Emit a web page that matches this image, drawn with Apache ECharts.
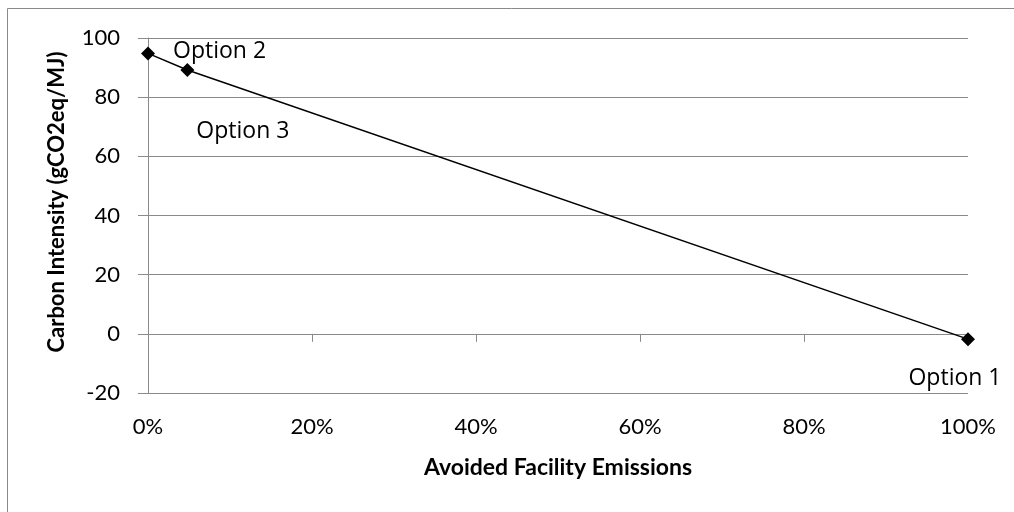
<!DOCTYPE html>
<html>
<head>
<meta charset="utf-8">
<script src="https://cdn.jsdelivr.net/npm/echarts@6/dist/echarts.min.js"></script>
<style>
html,body{margin:0;padding:0;background:#fff;}
#chart{width:1014px;height:512px;}
</style>
</head>
<body>
<div id="chart"></div>
<script>
// Data
var xValues = [0, 4.8, 100];          // Avoided Facility Emissions (%)
var yValues = [94.8, 89.2, -1.8];     // Carbon Intensity (gCO2eq/MJ)
var pointLabels = ['Option 2', 'Option 3', 'Option 1'];
var xTitle = 'Avoided Facility Emissions';
var yTitle = 'Carbon Intensity (gCO2eq/MJ)';

// Label placements (styling only)
var labelPlacement = [
  {position: 'right', offset: [13, -2]},
  {position: 'right', offset: [-3, 62]},
  {position: 'bottom', offset: [-13, 16]}
];

var FONT = 'Lato, "Open Sans", sans-serif';
var LABEL_FONT = '"Open Sans", Lato, sans-serif';
var GRAY = '#8a8a8a';

var seriesData = xValues.map(function (x, i) {
  return {
    value: [x, yValues[i]],
    label: {
      show: true,
      formatter: pointLabels[i],
      position: labelPlacement[i].position,
      offset: labelPlacement[i].offset,
      fontFamily: LABEL_FONT,
      fontSize: 23,
      color: '#000'
    }
  };
});

var chart = echarts.init(document.getElementById('chart'), null, {renderer: 'canvas'});
chart.setOption({
  animation: false,
  backgroundColor: '#fff',
  grid: {left: 148, right: 46, top: 38, bottom: 119, containLabel: false},
  graphic: [
    {
      type: 'rect',
      z: -10,
      shape: {x: 7.5, y: 8.5, width: 1100, height: 600},
      style: {fill: 'none', stroke: GRAY, lineWidth: 1}
    },
    {
      type: 'text',
      x: 57, y: 202,
      rotation: Math.PI / 2,
      style: {
        text: yTitle,
        fontFamily: FONT,
        fontSize: 22,
        fontWeight: 'bold',
        fill: '#000',
        align: 'center',
        verticalAlign: 'middle'
      }
    }
  ],
  xAxis: [
    {
      type: 'value',
      min: 0, max: 100, interval: 20,
      position: 'bottom',
      axisLine: {show: false, onZero: false},
      axisTick: {show: false},
      splitLine: {show: false},
      axisLabel: {
        margin: 23,
        fontFamily: FONT, fontSize: 22, color: '#000',
        formatter: function (v) { return v + '%'; }
      },
      name: xTitle,
      nameLocation: 'middle',
      nameGap: 63,
      nameTextStyle: {fontFamily: FONT, fontSize: 23, fontWeight: 'bold', color: '#000'}
    },
    {
      type: 'value',
      min: 0, max: 100, interval: 20,
      position: 'bottom',
      axisLine: {show: true, onZero: true, lineStyle: {color: GRAY, width: 1}},
      axisTick: {show: true, length: 8, inside: false, lineStyle: {color: GRAY, width: 1}},
      axisLabel: {show: false},
      splitLine: {show: false}
    }
  ],
  yAxis: {
    type: 'value',
    min: -20, max: 100, interval: 20,
    axisLine: {show: true, onZero: false, lineStyle: {color: GRAY, width: 1}},
    axisTick: {show: true, length: 10, lineStyle: {color: GRAY, width: 1}},
    splitLine: {show: true, lineStyle: {color: GRAY, width: 1}},
    axisLabel: {margin: 28, fontFamily: FONT, fontSize: 22, color: '#000'}
  },
  series: [{
    type: 'line',
    xAxisIndex: 0,
    data: seriesData,
    symbol: 'diamond',
    symbolSize: 14,
    lineStyle: {color: '#000', width: 1.5},
    itemStyle: {color: '#000'},
    z: 5
  }]
});
</script>
</body>
</html>
